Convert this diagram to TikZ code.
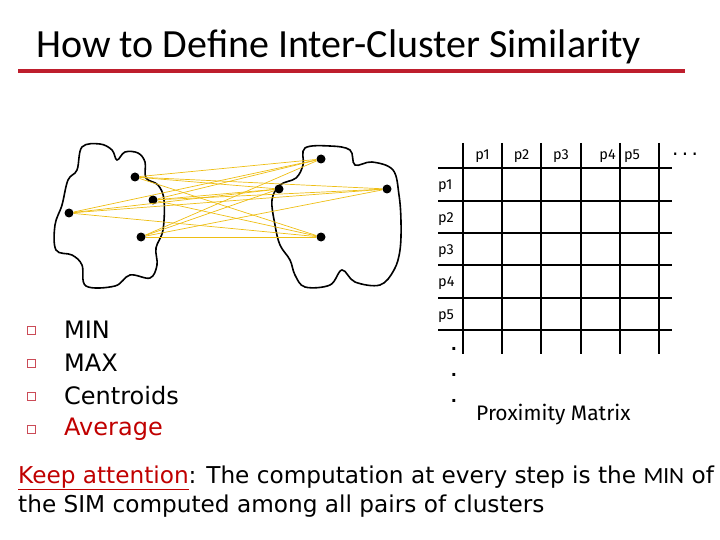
\documentclass[tikz,border=0pt]{standalone}
\usepackage{fontspec}
\setmainfont{DejaVu Sans}
\newfontfamily\titlefont{Carlito}
\newfontfamily\matfont{Fira Sans}
\definecolor{dred}{RGB}{192,0,0}
\definecolor{ured}{RGB}{190,30,45}
\definecolor{lnk}{RGB}{238,190,20}
\begin{document}
\begin{tikzpicture}[x=1pt,y=-1pt,
  pt/.style={circle,fill=black,inner sep=0pt,minimum size=9pt},
  lab/.style={font=\matfont\fontsize{14.5}{14.5}\selectfont,inner sep=0pt},
  bul/.style={font=\fontsize{24}{24}\selectfont,anchor=west,inner sep=0pt},
  sq/.style={draw=ured!80,line width=0.8pt,minimum size=8pt,inner sep=0pt}]
\useasboundingbox (0,0) rectangle (720,540);
\node[font=\titlefont\fontsize{40}{40}\selectfont,anchor=west,inner sep=0pt] (title) at (36,47) {How to Define Inter-Cluster Similarity};
\draw[ured,line width=4pt] (18,71) -- (685,71);
% clouds
\draw[line width=1.6pt] plot[smooth cycle,tension=0.6] coordinates {
 (82,147) (100,144) (112,150) (117,160) (125,152) (138,153) (145,162) (146,178) (158,185) (164,200) (163,230) (156,248) (157,265) (150,278) (130,275) (115,286) (86,286) (82,265) (72,255) (56,250) (55,225) (62,205) (68,180) (77,170)};
\draw[line width=1.6pt] plot[smooth cycle,tension=0.6] coordinates {
 (305,148) (330,146) (350,150) (355,165) (372,162) (393,170) (399,195) (401,222) (400,250) (394,270) (380,285) (355,282) (342,270) (330,285) (305,287) (295,275) (290,260) (280,245) (275,225) (272,200) (280,185) (296,178) (303,165)};
\node[pt] (a1) at (135,177) {};
\node[pt] (a2) at (153,200) {};
\node[pt] (a3) at (69,213) {};
\node[pt] (a4) at (141,237) {};
\node[pt] (b1) at (321,159) {};
\node[pt] (b2) at (279,189) {};
\node[pt] (b3) at (387,189) {};
\node[pt] (b4) at (321,237) {};
\foreach \i in {a1,a2,a3,a4}{\foreach \j in {b1,b2,b3,b4}{\draw[lnk,line width=0.7pt] (\i) -- (\j);}}
% matrix
\foreach \x in {463,502,541,581,620,659}{\draw[line width=1.4pt] (\x,143) -- (\x,354);}
\foreach \y in {168,201,233,265,298,330}{\draw[line width=1.4pt] (438,\y) -- (672,\y);}
\node[lab] (c1) at (482.5,156) {p1};
\node[lab] (c2) at (521.5,156) {p2};
\node[lab] (c3) at (561,156) {p3};
\node[lab,anchor=east] (c4) at (616,156) {p4};
\node[lab,anchor=west] (c5) at (624,156) {p5};
\node[font=\fontsize{20}{20}\selectfont,inner sep=0pt] (cd) at (685,154) {.\,.\,.};
\node[lab,anchor=west] (r1) at (438,186) {p1};
\node[lab,anchor=west] (r2) at (438,219) {p2};
\node[lab,anchor=west] (r3) at (438,251) {p3};
\node[lab,anchor=west] (r4) at (438,283) {p4};
\node[lab,anchor=west] (r5) at (438,316) {p5};
\node[font=\bfseries\fontsize{16}{16}\selectfont,inner sep=0pt] (d1) at (454,349) {.};
\node[font=\bfseries\fontsize{16}{16}\selectfont,inner sep=0pt] (d2) at (454,375) {.};
\node[font=\bfseries\fontsize{16}{16}\selectfont,inner sep=0pt] (d3) at (454,401) {.};
\node[font=\matfont\fontsize{21}{21}\selectfont,anchor=west,inner sep=0pt] (pm) at (476,415) {Proximity Matrix};
% bullets
\node[sq] (s1) at (31,330) {}; \node[bul] (t1) at (64,330) {MIN};
\node[sq] (s2) at (31,363) {}; \node[bul] (t2) at (64,363) {MAX};
\node[sq] (s3) at (31,396) {}; \node[bul] (t3) at (64,396) {Centroids};
\node[sq] (s4) at (31,429) {}; \node[bul,text=dred] (t4) at (64,429) {Average};
% bottom
\node[font=\fontsize{23.2}{23.2}\selectfont,anchor=west,inner sep=0pt] (k1) at (18,478) {\textcolor{dred}{\underline{Keep attention}}: The computation at every step is the {\titlefont MIN} of};
\node[font=\fontsize{23.2}{23.2}\selectfont,anchor=west,inner sep=0pt] (k2) at (18,506) {the SIM computed among all pairs of clusters};
\end{tikzpicture}
\end{document}
